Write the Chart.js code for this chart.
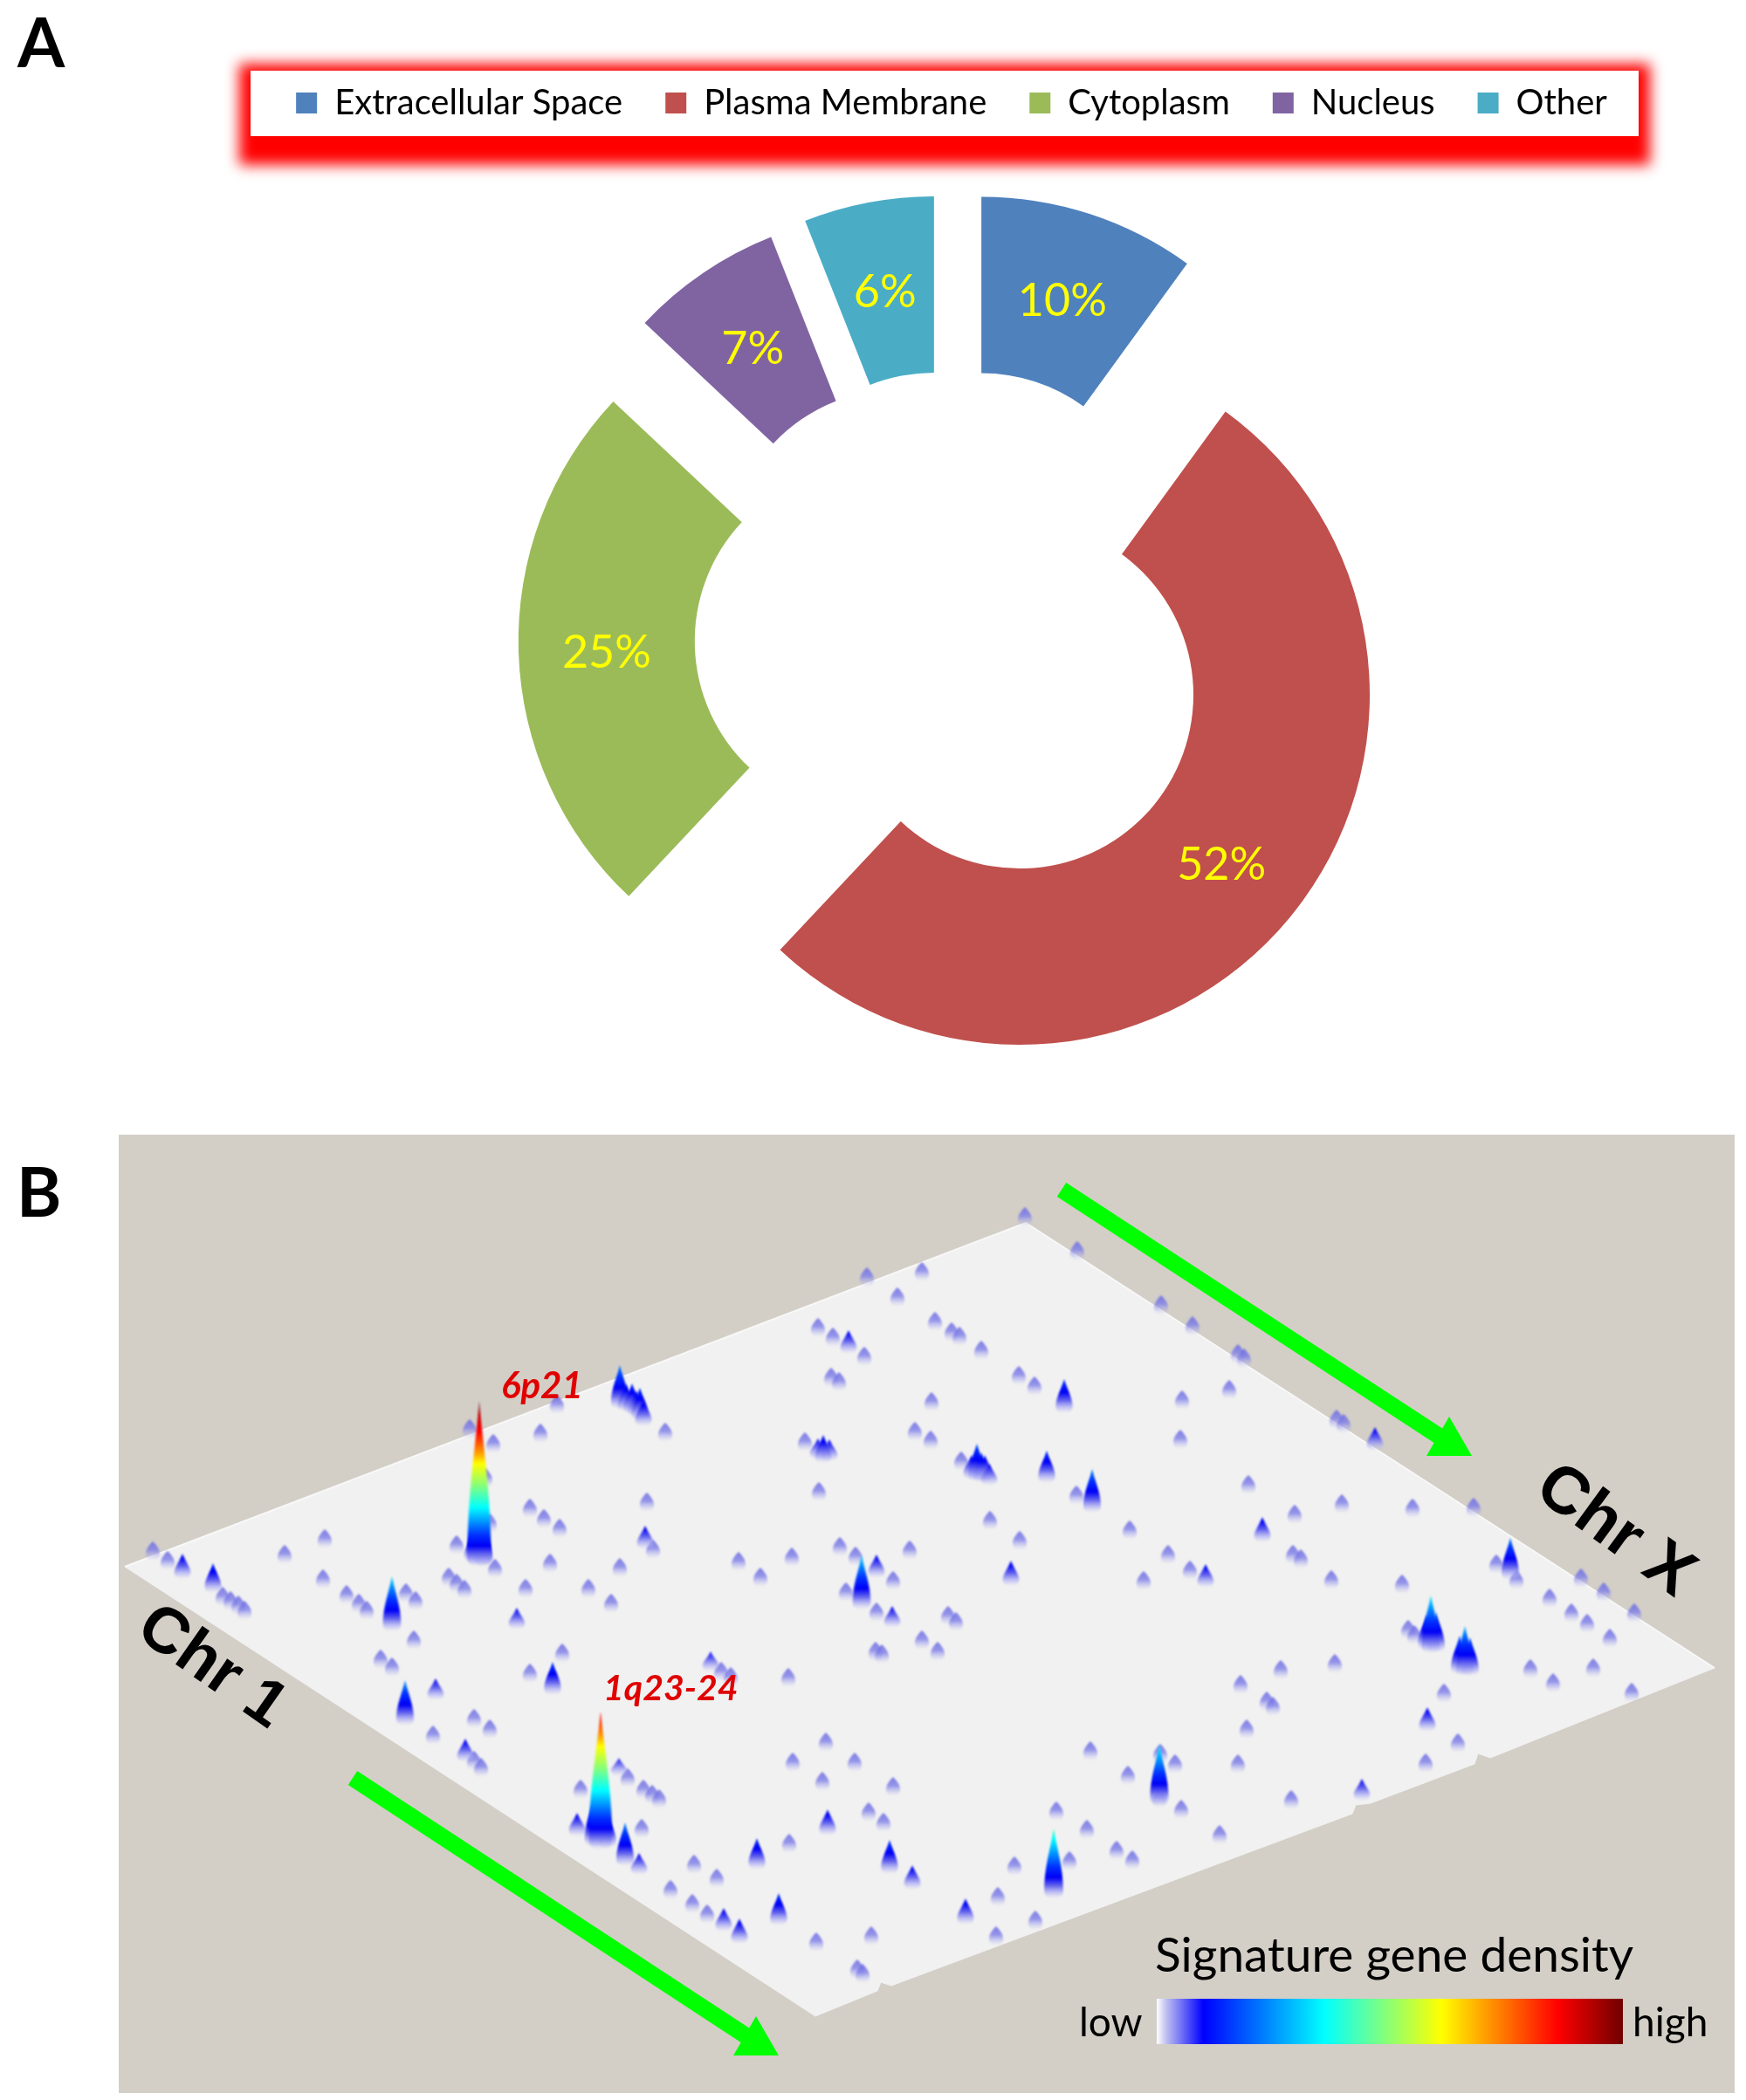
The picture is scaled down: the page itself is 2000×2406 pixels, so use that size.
<!DOCTYPE html>
<html>
<head>
<meta charset="utf-8">
<title>Signature genes</title>
<script src="https://cdn.jsdelivr.net/npm/chart.js@4"></script>
<style>
  html, body { margin: 0; padding: 0; background: #fff; }
  canvas { position: absolute; left: 0; }
  #donut { top: 0; }
  #map { top: 1289px; }
</style>
</head>
<body>
<canvas id="donut" width="2000" height="1338"></canvas>
<canvas id="map" width="2000" height="1117"></canvas>
<script>
// panel A
const locations = ["Extracellular Space", "Plasma Membrane", "Cytoplasm", "Nucleus", "Other"];
const shares = [10, 52, 25, 7, 6];
const shareColors = ["#4F81BD", "#C0504D", "#9BBB59", "#8064A2", "#4BACC6"];
const explode = [442, 405, 381, 421, 430];
const ringOuter = 401;
const ringInner = 199;

// panel B, on the map axes: low background spots
const spotX = [175,192,538,565,638,619,762,556,607,623,641,741,561,523,372,326,567,630,710,370,397,602,674,700,
  255,264,273,280,465,476,514,523,532,411,420,748,
  474,436,449,543,561,496,543,551,644,607,826,837,903,908,719,737,747,755,665,735,904,795,821,768,793,810,
  1174,1234,993,1056,1028,937,954,990,1071,1090,1099,1124,1330,1366,1418,1425,1408,1354,1167,1185,952,961,
  1067,1048,1066,1352,922,938,1233,1101,1430,1483,1134,1294,1168,962,907,846,871,980,1042,1023,969,1004,
  1338,1363,1310,1481,1490,1086,1095,1056,1074,1003,1010,
  1531,1539,1537,1618,1688,1525,1606,1714,1737,1811,1837,1775,1800,1818,1872,1844,1613,1620,
  946,979,942,1023,995,1012,1249,1292,1346,1329,1418,1479,1353,1328,1397,1210,1245,1279,1297,1225,1162,
  1143,1186,1141,998,935,982,988,1421,1467,1529,1451,1458,1428,1654,1670,1633,1753,1825,1779,1869];
const spotY = [1777,1788,1637,1654,1609,1642,1641,1693,1728,1740,1751,1721,1745,1770,1763,1781,1797,1791,1796,1809,1827,1820,1820,1837,
  1829,1834,1839,1845,1825,1834,1807,1814,1821,1837,1845,1775,
  1879,1901,1910,1969,1981,1988,2017,2025,1894,1917,1915,1921,1922,2019,2037,2050,2056,2061,2050,2095,2112,2136,2152,2165,2181,2193,
  1394,1433,1463,1457,1486,1521,1532,1554,1514,1526,1531,1547,1495,1519,1551,1556,1592,1604,1576,1588,1578,1583,
  1606,1640,1650,1649,1652,1709,1713,1674,1701,1735,1742,1753,1765,1772,1784,1789,1807,1783,1776,1811,1824,1847,
  1781,1799,1811,1781,1786,1851,1858,1879,1892,1892,1895,
  1626,1631,1723,1728,1727,1810,1815,1792,1810,1808,1824,1831,1848,1860,1848,1877,1867,1873,
  1996,2019,2041,2047,2076,2088,2006,2034,2021,2009,2021,2062,2073,2060,2102,2075,2096,2120,2131,2132,2138,
  2173,2200,2218,2218,2225,2256,2261,1930,1913,1906,1949,1955,1981,1940,1997,2020,1912,1911,1928,1939];

// peaks: foot position and height
const peakX = [209,244,739,710,724,733,737,549,541,554,
  449,592,464,499,533,633,814,688,709,661,716,732,867,829,847,892,
  972,1219,943,950,1119,1133,1128,1199,1251,1446,987,1004,1158,1381,1022,
  1575,1730,1639,1678,948,1019,1045,1207,1106,1328,1560,1635,
  717,729,1124,1113,1645,1634,1672,1684,680,696,545,554,937];
const peakY = [1809,1825,1775,1614,1620,1627,1634,1795,1789,1793,
  1869,1867,1977,1948,2019,1942,1915,2119,2035,2104,2138,2148,2142,2213,2227,2206,
  1551,1619,1676,1674,1697,1702,1697,1699,1733,1767,1844,1808,1817,1819,1865,
  1662,1810,1894,1920,2103,2147,2165,2175,2205,2068,2063,1984,
  1617,1623,1698,1695,1893,1890,1918,1920,2115,2117,1792,1794,1672];
const peakH = [29,34,27,50,35,37,30,190,30,40,
  63,25,52,25,27,38,23,158,21,27,50,25,36,27,29,37,
  27,39,32,25,43,25,30,37,50,29,62,27,29,27,25,
  27,48,66,57,30,39,28,80,30,69,25,28,
  32,30,34,28,46,40,44,44,56,40,62,52,24];

// outline of the plate
const plateTopX = [143,1175,1964];
const plateTopY = [1795,1401,1911];
const plateBottomX = [143,934,1005,1009,1021,1549,1553,1570,1689,1693,1707,1964];
const plateBottomY = [1795,2310,2281,2271,2275,2078,2068,2066,2021,2009,2014,1911];

const arrowOneX = [1216,1660];
const arrowOneY = [1363,1653];
const arrowTwoX = [404,866];
const arrowTwoY = [2037,2340];

// colour ramp of the density, by height above the plate
const rampH = [0,6,14,24,36,68,92,118,130,155,175,190];
const rampC = [[190,190,245,0],[170,170,245,.6],[106,106,238,1],[0,0,245,1],[0,48,255,1],[0,255,255,1],
  [128,255,128,1],[255,255,0,1],[255,160,0,1],[255,0,0,1],[192,0,0,1],[112,48,48,1]];
const barStops = [0,.02,.1,.36,.61,.86,1];
const barColors = ["#ffffff","#c0c0f0","#0000ff","#00ffff","#ffff00","#ff0000","#700000"];

function rampColor(h) {
    let i = 0;
    while (i < rampH.length - 2 && rampH[i + 1] < h) i++;
    const t = Math.min(1, (h - rampH[i]) / (rampH[i + 1] - rampH[i]));
    const c = rampC[i].map((v, k) => v + (rampC[i + 1][k] - v) * t);
    return `rgba(${Math.round(c[0])},${Math.round(c[1])},${Math.round(c[2])},${c[3]})`;
}

// point image: the foot of the peak sits on the centre of the canvas
function peakImage(h) {
    const w = Math.min(27, 17 + h * 0.06);
    const cv = document.createElement("canvas");
    cv.width = Math.ceil(w + 8);
    cv.height = Math.ceil(h * 2 + 8);
    const ctx = cv.getContext("2d");
    ctx.translate(cv.width / 2, cv.height / 2);
    const g = ctx.createLinearGradient(0, 0, 0, -h);
    rampH.forEach((s) => {
        if (s < h) g.addColorStop(s / h, rampColor(s));
    });
    g.addColorStop(1, rampColor(h));
    ctx.filter = "blur(1px)";
    ctx.fillStyle = g;
    ctx.beginPath();
    ctx.moveTo(0, -h);
    ctx.bezierCurveTo(w * 0.16, -h * 0.72, w * 0.5, -h * 0.45, w * 0.5, -w * 0.4);
    ctx.quadraticCurveTo(w * 0.5, 0, 0, 0);
    ctx.quadraticCurveTo(-w * 0.5, 0, -w * 0.5, -w * 0.4);
    ctx.bezierCurveTo(-w * 0.5, -h * 0.45, -w * 0.16, -h * 0.72, 0, -h);
    ctx.closePath();
    ctx.fill();
    return cv;
}

function spotImage() {
    const cv = document.createElement("canvas");
    cv.width = 26;
    cv.height = 30;
    const ctx = cv.getContext("2d");
    const g = ctx.createLinearGradient(0, 4, 0, 26);
    g.addColorStop(0, "rgba(105,105,225,.85)");
    g.addColorStop(.45, "rgba(125,125,232,.8)");
    g.addColorStop(1, "rgba(190,190,245,0)");
    ctx.filter = "blur(1px)";
    ctx.fillStyle = g;
    ctx.beginPath();
    ctx.moveTo(13, 4);
    ctx.bezierCurveTo(16, 7, 21, 12, 21, 18);
    ctx.quadraticCurveTo(21, 26, 13, 26);
    ctx.quadraticCurveTo(5, 26, 5, 18);
    ctx.bezierCurveTo(5, 12, 10, 7, 13, 4);
    ctx.closePath();
    ctx.fill();
    return cv;
}

function toPoints(xs, ys) {
    return xs.map((x, i) => ({ x: x, y: ys[i] }));
}

// far items first, as on the plate
const spotPoints = toPoints(spotX, spotY).sort((a, b) => a.y - b.y);
const peakOrder = peakX.map((x, i) => i).sort((a, b) => peakY[a] - peakY[b]);
const peakPoints = peakOrder.map((i) => ({ x: peakX[i], y: peakY[i] }));
const peakStyles = peakOrder.map((i) => peakImage(peakH[i]));
const oneSpot = spotImage();

function drawText(ctx, text, x, y, font, color, angle, align) {
    ctx.save();
    ctx.translate(x, y);
    if (angle) ctx.rotate(angle * Math.PI / 180);
    ctx.font = font;
    ctx.fillStyle = color;
    ctx.textAlign = align || "left";
    ctx.textBaseline = "alphabetic";
    ctx.fillText(text, 0, 0);
    ctx.restore();
}

const legendFrame = {
    id: "legendFrame",
    beforeDraw(chart) {
        const ctx = chart.ctx;
        ctx.save();
        ctx.filter = "blur(8px)";
        ctx.fillStyle = "#ff0000";
        ctx.fillRect(274, 73, 1616, 116);
        ctx.filter = "none";
        ctx.fillStyle = "#ffffff";
        ctx.fillRect(287, 81, 1590, 75);
        ctx.restore();
    },
    afterDraw(chart) {
        drawText(chart.ctx, "A", 20, 77, "bold 78px Lato", "#000");
    },
};

// the arc element grows an offset slice and trims its angle, both by amounts
// that depend on the sweep, so take that back here to keep one even ring
const evenRing = {
    id: "evenRing",
    afterDatasetsUpdate(chart) {
        chart.getDatasetMeta(0).data.forEach((arc, i) => {
            const grow = (explode[i] / 4) * (1 - Math.sin(Math.min(Math.PI, arc.circumference)));
            const trim = grow / (2 * Math.PI * ringOuter);
            arc.outerRadius = ringOuter - grow;
            arc.innerRadius = ringInner - grow;
            arc.startAngle -= trim;
            arc.endAngle += trim;
        });
    },
    afterDatasetsDraw(chart) {
        const ctx = chart.ctx;
        chart.getDatasetMeta(0).data.forEach((arc, i) => {
            const mid = (arc.startAngle + arc.endAngle) / 2;
            const r = (ringOuter + ringInner) / 2 + explode[i] / 4;
            drawText(ctx, shares[i] + "%", arc.x + Math.cos(mid) * r, arc.y + Math.sin(mid) * r + 21,
                "52px Lato", "#FFFF00", 0, "center");
        });
    },
};

new Chart(document.getElementById("donut"), {
    type: "doughnut",
    data: {
        labels: locations,
        datasets: [{ data: shares, backgroundColor: shareColors, borderWidth: 0, offset: explode }],
    },
    options: {
        responsive: false,
        animation: false,
        events: [],
        radius: ringOuter,
        cutout: "50%",
        layout: { padding: { left: 180, top: 49, bottom: 23 } },
        plugins: {
            tooltip: { enabled: false },
            legend: {
                position: "top",
                labels: { boxWidth: 24, boxHeight: 24, padding: 49, color: "#000", font: { family: "Lato", size: 40 } },
            },
        },
    },
    plugins: [legendFrame, evenRing],
});

const mapDecor = {
    id: "mapDecor",
    beforeDraw(chart) {
        const ctx = chart.ctx;
        const sx = chart.scales.x, sy = chart.scales.y;
        const left = sx.getPixelForValue(136), right = sx.getPixelForValue(1987);
        const top = sy.getPixelForValue(1300), bottom = sy.getPixelForValue(2398);
        ctx.fillStyle = "#d3cfc7";
        ctx.fillRect(left, top, right - left, bottom - top);
    },
    afterDraw(chart) {
        const ctx = chart.ctx;
        const sx = chart.scales.x, sy = chart.scales.y;
        const px = (v) => sx.getPixelForValue(v);
        const py = (v) => sy.getPixelForValue(v);
        drawText(ctx, "B", px(19), py(1394), "bold 78px Lato", "#000");
        drawText(ctx, "6p21", px(574), py(1602), "italic bold 42px Lato", "#e00000");
        drawText(ctx, "1q23-24", px(691), py(1948), "italic bold 41px Lato", "#e00000");
        drawText(ctx, "Chr 1", px(153), py(1873), "bold 74px 'Liberation Sans'", "#000", 35);
        drawText(ctx, "Chr X", px(1755), py(1712), "bold 76px 'Liberation Sans'", "#000", 36);
        drawText(ctx, "Signature gene density", px(1323), py(2259), "55px Lato", "#000");
        drawText(ctx, "low", px(1236), py(2333), "46px Lato", "#000");
        drawText(ctx, "high", px(1870), py(2333), "46px Lato", "#000");
        const x0 = px(1325), x1 = px(1859);
        const g = ctx.createLinearGradient(x0, 0, x1, 0);
        barStops.forEach((s, i) => g.addColorStop(s, barColors[i]));
        ctx.fillStyle = g;
        ctx.fillRect(x0, py(2290), x1 - x0, py(2342) - py(2290));
    },
};

function arrowSet(xs, ys) {
    return {
        data: toPoints(xs, ys),
        showLine: true,
        borderColor: "#00ff00",
        borderWidth: 19,
        borderCapStyle: "butt",
        pointStyle: "triangle",
        pointRadius: [0, 30],
        pointBorderWidth: 0,
        pointBackgroundColor: "#00ff00",
        order: 3,
    };
}

new Chart(document.getElementById("map"), {
    type: "scatter",
    data: {
        datasets: [
            { data: peakPoints, pointStyle: peakStyles, pointRadius: 10, order: 1 },
            { data: spotPoints, pointStyle: oneSpot, pointRadius: 10, order: 2 },
            arrowSet(arrowOneX, arrowOneY),
            arrowSet(arrowTwoX, arrowTwoY),
            {
                data: toPoints(plateTopX, plateTopY),
                showLine: true,
                fill: "+1",
                backgroundColor: "#f1f1f1",
                borderColor: "#f8f8f8",
                borderWidth: 2,
                pointRadius: 0,
                order: 5,
            },
            {
                data: toPoints(plateBottomX, plateBottomY),
                showLine: true,
                borderColor: "#f1f1f1",
                borderWidth: 1,
                pointRadius: 0,
                order: 6,
            },
        ],
    },
    options: {
        responsive: false,
        animation: false,
        events: [],
        layout: { padding: 0, autoPadding: false },
        scales: {
            x: { type: "linear", min: 0, max: 2000, display: false },
            y: { type: "linear", min: 1289, max: 2406, reverse: true, display: false },
        },
        plugins: { legend: { display: false }, tooltip: { enabled: false } },
    },
    plugins: [mapDecor],
});
</script>
</body>
</html>
